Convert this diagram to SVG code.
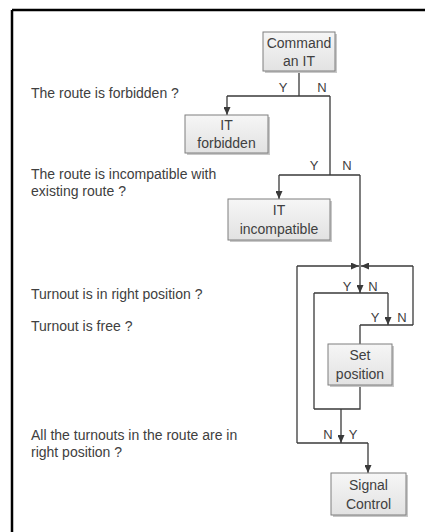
<svg xmlns="http://www.w3.org/2000/svg" width="425" height="532" viewBox="0 0 425 532">
<defs>
<linearGradient id="g" x1="0" y1="0" x2="0" y2="1">
<stop offset="0" stop-color="#f6f6f6"/>
<stop offset="1" stop-color="#e2e2e2"/>
</linearGradient>
<marker id="ah" markerUnits="userSpaceOnUse" markerWidth="8" markerHeight="7" refX="8" refY="3.5" orient="auto">
<path d="M0,0 L8,3.5 L0,7 z" fill="#3a3a3a"/>
</marker>
</defs>
<style>
.box{fill:url(#g);stroke:#7f7f7f;stroke-width:1}
.sh{fill:#c8c8c8}
.bt{font-family:"Liberation Sans",Arial,sans-serif;font-size:14px;fill:#404040;text-anchor:middle}
.lt{font-family:"Liberation Sans",Arial,sans-serif;font-size:14px;fill:#404040}
.yn{font-family:"Liberation Sans",Arial,sans-serif;font-size:13px;fill:#404040;text-anchor:middle}
.c{fill:none;stroke:#3a3a3a;stroke-width:1.3}
.a{marker-end:url(#ah)}
</style>
<rect width="425" height="532" fill="#ffffff"/>
<g id="frame">
<path d="M12,10 H425 M12,10 V532" fill="none" stroke="#000" stroke-width="2.5"/>
</g>
<g id="labels">
<text class="lt" x="31" y="98">The route is forbidden ?</text>
<text class="lt" x="31" y="179">The route is incompatible with</text>
<text class="lt" x="31" y="196">existing route ?</text>
<text class="lt" x="31" y="299">Turnout is in right position ?</text>
<text class="lt" x="31" y="331">Turnout is free ?</text>
<text class="lt" x="31" y="440">All the turnouts in the route are in</text>
<text class="lt" x="31" y="457">right position ?</text>
</g>
<g id="connectors">
<path class="c" d="M299,71 V96 M227,96 H330"/>
<path class="c a" d="M227,96 V115"/>
<path class="c" d="M330,96 V175 M279,175 H360"/>
<path class="c a" d="M279,175 V199"/>
<path class="c a" d="M360,175 V293"/>
<path class="c" d="M297,266 V443"/>
<path class="c a" d="M297,266 H359"/>
<path class="c" d="M413,266 V325"/>
<path class="c a" d="M413,266 H361"/>
<path class="c" d="M314,293 H388 M314,293 V409"/>
<path class="c a" d="M388,293 V325"/>
<path class="c" d="M360,325 H413 M360,325 V344"/>
<path class="c" d="M360,385 V409 H314"/>
<path class="c a" d="M341,409 V443"/>
<path class="c" d="M297,443 H368"/>
<path class="c a" d="M368,443 V473"/>
<text class="yn" x="283" y="92">Y</text>
<text class="yn" x="322" y="92">N</text>
<text class="yn" x="314" y="170">Y</text>
<text class="yn" x="347" y="170">N</text>
<text class="yn" x="347" y="291">Y</text>
<text class="yn" x="373" y="291">N</text>
<text class="yn" x="375" y="322">Y</text>
<text class="yn" x="402" y="322">N</text>
<text class="yn" x="328" y="439">N</text>
<text class="yn" x="353" y="439">Y</text>
</g>
<g id="n-command">
<rect class="sh" x="265" y="34" width="72" height="39"/>
<rect class="box" x="263" y="32" width="72" height="39"/>
<text class="bt" x="299" y="48">Command</text>
<text class="bt" x="299" y="66">an IT</text>
</g>
<g id="n-forbidden">
<rect class="sh" x="187" y="117" width="83" height="38"/>
<rect class="box" x="185" y="115" width="83" height="38"/>
<text class="bt" x="226.5" y="130">IT</text>
<text class="bt" x="226.5" y="148">forbidden</text>
</g>
<g id="n-incompatible">
<rect class="sh" x="230" y="201" width="102" height="41"/>
<rect class="box" x="228" y="199" width="102" height="41"/>
<text class="bt" x="279" y="215">IT</text>
<text class="bt" x="279" y="234">incompatible</text>
</g>
<g id="n-setpos">
<rect class="sh" x="330" y="346" width="64" height="41"/>
<rect class="box" x="328" y="344" width="64" height="41"/>
<text class="bt" x="360" y="360">Set</text>
<text class="bt" x="360" y="379">position</text>
</g>
<g id="n-signal">
<rect class="sh" x="333" y="475" width="75" height="42"/>
<rect class="box" x="331" y="473" width="75" height="42"/>
<text class="bt" x="368.5" y="490">Signal</text>
<text class="bt" x="368.5" y="509">Control</text>
</g>
</svg>
